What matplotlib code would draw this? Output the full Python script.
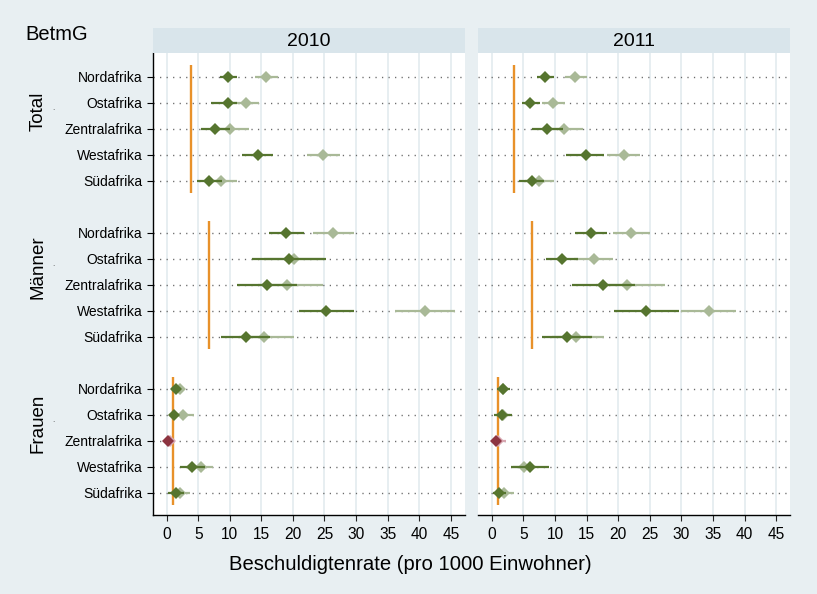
import matplotlib
matplotlib.use("Agg")
import matplotlib.pyplot as plt
import numpy as np

plt.rcParams['font.family'] = ['Liberation Sans', 'DejaVu Sans']

# Categories
regions = ["Nordafrika", "Ostafrika", "Zentralafrika", "Westafrika", "Südafrika"]
groups = ["Total", "Männer", "Frauen"]
years = ["2010", "2011"]
xticks = [0, 5, 10, 15, 20, 25, 30, 35, 40, 45]

# Rates per 1000 inhabitants, ordered Total (5 regions), Männer (5), Frauen (5)
dark_est_2010 = [9.8, 9.8, 7.7, 14.4, 6.7, 18.9, 19.4, 15.9, 25.3, 12.5, 1.5, 1.2, 0.3, 4.1, 1.5]
dark_lo_2010 = [8.5, 7.1, 5.4, 12.0, 4.8, 16.2, 13.6, 11.2, 21.0, 8.6, 0.75, 0.4, 0.0, 2.1, 0.2]
dark_hi_2010 = [11.2, 11.2, 10.0, 16.8, 8.7, 21.7, 25.2, 20.7, 29.6, 16.4, 2.3, 2.0, 0.8, 6.1, 2.8]
light_est_2010 = [15.7, 12.5, 10.1, 24.8, 8.6, 26.3, 20.1, 19.0, 40.9, 15.4, 2.1, 2.6, 0.5, 5.4, 2.1]
light_lo_2010 = [14.0, 10.4, 7.9, 22.2, 6.8, 23.2, 15.5, 14.5, 36.2, 11.4, 1.2, 1.2, 0.0, 3.5, 0.8]
light_hi_2010 = [17.6, 14.7, 13.1, 27.5, 11.1, 29.6, 25.0, 24.8, 45.6, 20.1, 2.7, 4.3, 1.4, 7.3, 3.7]

dark_est_2011 = [8.4, 6.1, 8.7, 14.9, 6.4, 15.7, 11.1, 17.6, 24.4, 11.9, 1.75, 1.6, 0.6, 6.1, 1.1]
dark_lo_2011 = [7.2, 4.7, 6.3, 11.8, 4.3, 13.2, 8.5, 12.7, 19.3, 8.0, 0.8, 0.3, 0.0, 3.1, 0.15]
dark_hi_2011 = [9.8, 7.6, 11.3, 17.8, 8.3, 18.3, 13.7, 22.7, 29.6, 15.9, 2.8, 3.2, 1.4, 9.1, 2.2]
light_est_2011 = [13.2, 9.6, 11.4, 20.9, 7.5, 22.1, 16.1, 21.4, 34.3, 13.3, 1.8, 1.7, 0.9, 5.1, 1.9]
light_lo_2011 = [11.6, 7.9, 8.8, 18.3, 5.3, 19.2, 13.0, 16.5, 30.0, 9.5, 1.0, 0.6, 0.0, 3.3, 0.8]
light_hi_2011 = [15.0, 11.5, 14.5, 23.4, 9.9, 25.0, 19.2, 27.4, 38.6, 17.8, 2.6, 2.9, 2.3, 7.0, 3.5]

# Flag for estimates based on small counts (drawn in red)
small_count = [False] * 10 + [False, False, True, False, False]

# Overall reference rate per group
ref_2010 = [3.8, 6.7, 1.06]
ref_2011 = [3.5, 6.4, 0.95]

data = {
    "2010": (dark_est_2010, dark_lo_2010, dark_hi_2010,
             light_est_2010, light_lo_2010, light_hi_2010, ref_2010),
    "2011": (dark_est_2011, dark_lo_2011, dark_hi_2011,
             light_est_2011, light_lo_2011, light_hi_2011, ref_2011),
}

BG = "#e8eff2"
STRIP = "#d9e5eb"
GRID = "#e3ebef"
DARK = "#56752f"
LIGHT = "#a9b997"
RED = "#8c3440"
PINK = "#d7a7b1"
ORANGE = "#e8912a"

W, H = 817, 594
fig = plt.figure(figsize=(W / 100, H / 100), dpi=100, facecolor=BG)

# row positions: 5 regions per group, one empty row between groups
ypos = []
for g in range(len(groups)):
    for r in range(len(regions)):
        ypos.append(g * 6 + r)
ypos = np.array(ypos)

panel_left = [152.7, 478.0]
panel_w = 312.0
top_px, bottom_px = 53.0, 515.0
strip_top = 28.0

for i, yr in enumerate(years):
    de, dl, dh, le, ll, lh, ref = data[yr]
    ax = fig.add_axes([panel_left[i] / W, 1 - bottom_px / H,
                       panel_w / W, (bottom_px - top_px) / H])
    ax.set_facecolor("white")
    ax.set_xlim(-2.2, 47.2)
    ax.set_ylim(16.85, -0.92)

    for xv in xticks:
        ax.axvline(xv, color=GRID, lw=1.2, zorder=0)
    for yv in ypos:
        ax.axhline(yv, color="#6a6a6a", lw=1.0, ls=(0, (0.9, 3.8)), zorder=1)

    # group reference rates
    for g in range(len(groups)):
        ax.plot([ref[g], ref[g]], [g * 6 - 0.47, g * 6 + 4.47],
                color=ORANGE, lw=1.7, zorder=2, solid_capstyle="butt")

    for k, yv in enumerate(ypos):
        lc = PINK if small_count[k] else LIGHT
        ax.plot([ll[k], lh[k]], [yv, yv], color=lc, lw=1.6, zorder=3,
                solid_capstyle="butt")
        ax.plot(le[k], yv, marker="D", ms=6.2, mew=0, color=lc, zorder=4)
    for k, yv in enumerate(ypos):
        dc = RED if small_count[k] else DARK
        ax.plot([dl[k], dh[k]], [yv, yv], color=dc, lw=1.6, zorder=5,
                solid_capstyle="butt")
        ax.plot(de[k], yv, marker="D", ms=6.2, mew=0, color=dc, zorder=6)

    for s in ["top", "right"]:
        ax.spines[s].set_visible(False)
    ax.spines["bottom"].set_linewidth(1.0)
    ax.set_xticks(xticks)
    ax.set_xticklabels([str(v) for v in xticks], fontsize=11.2)
    ax.tick_params(axis="x", length=4.5, width=0.8, pad=4, color="#222222")
    if i == 0:
        ax.spines["left"].set_linewidth(1.0)
        ax.set_yticks(ypos)
        ax.set_yticklabels(regions * len(groups), fontsize=10)
        ax.tick_params(axis="y", length=4.2, width=0.8, pad=3)
    else:
        ax.spines["left"].set_visible(False)
        ax.set_yticks([])

    # header strip with year
    sax = fig.add_axes([panel_left[i] / W, 1 - top_px / H,
                        panel_w / W, (top_px - strip_top) / H])
    sax.set_facecolor(STRIP)
    sax.set_xticks([])
    sax.set_yticks([])
    for s in sax.spines.values():
        s.set_visible(False)
    sax.text(0.5, 0.47, yr, ha="center", va="center", fontsize=14,
             transform=sax.transAxes)

# group labels
for g, name in enumerate(groups):
    yc = 77 + (g * 6 + 2) * 26 - 18
    fig.text(38 / W, 1 - yc / H, name, rotation=90, ha="center", va="center",
             fontsize=13.5)
    fig.text(53 / W, 1 - (yc - 3) / H, ".", ha="center", va="center",
             fontsize=6, color="#444444")

fig.text(25 / W, 1 - 35 / H, "BetmG", ha="left", va="center", fontsize=14.5)
fig.text(410 / W, 1 - 565 / H, "Beschuldigtenrate (pro 1000 Einwohner)",
         ha="center", va="center", fontsize=14.6)

fig.savefig("out.png", dpi=100, facecolor=BG)
